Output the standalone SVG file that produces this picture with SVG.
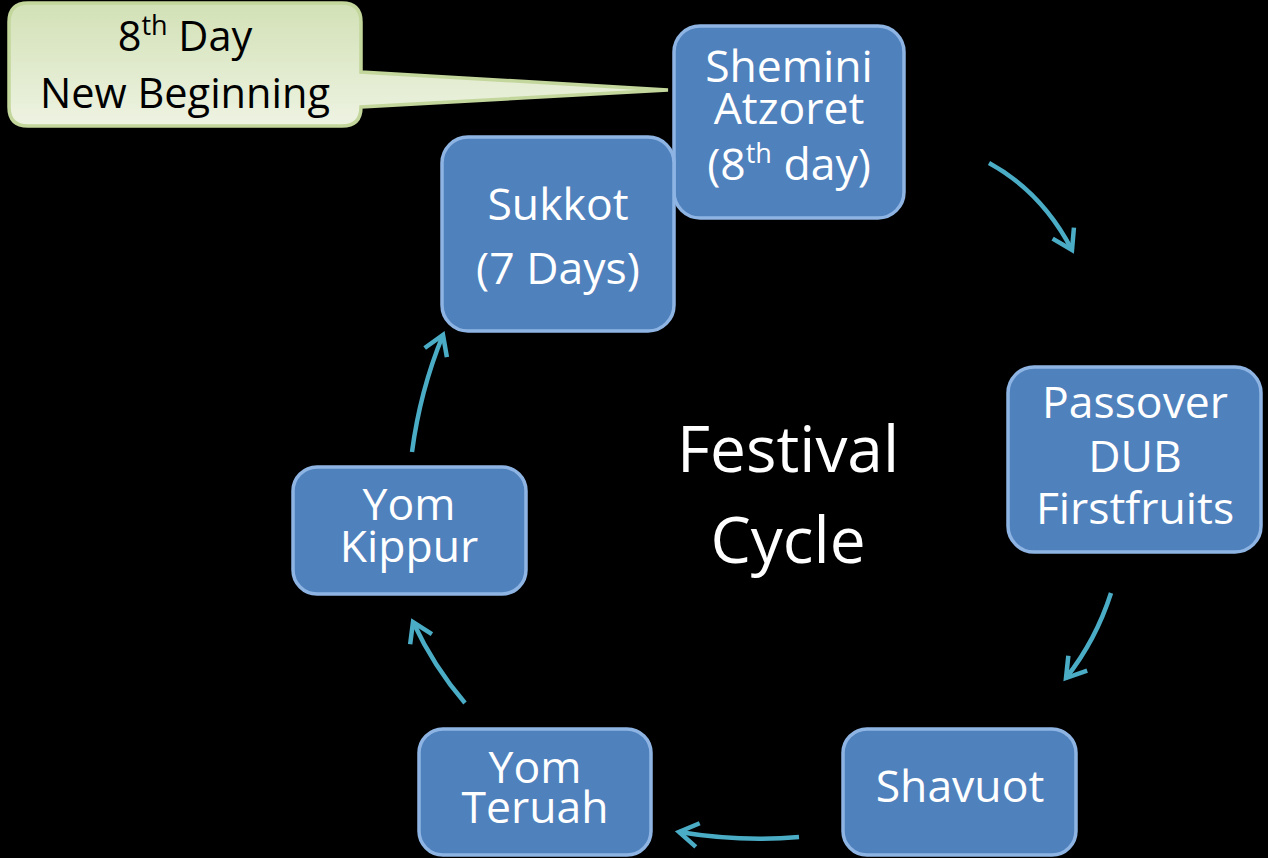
<svg xmlns="http://www.w3.org/2000/svg" width="1268" height="858" viewBox="0 0 1268 858">
<defs>
<linearGradient id="callGrad" x1="0" y1="0" x2="0" y2="1">
<stop offset="0" stop-color="#D2E1B6"/>
<stop offset="1" stop-color="#EEF3E2"/>
</linearGradient>
<marker id="chev" markerUnits="userSpaceOnUse" markerWidth="40" markerHeight="40" refX="0" refY="0" viewBox="-25 -20 30 40" orient="auto" overflow="visible">
<path d="M -19,-12 L 0,0 L -19,12" fill="none" stroke="#4BACC6" stroke-width="4.5" stroke-linejoin="miter"/>
</marker>
</defs>
<style>
.node rect { fill: #4F81BD; stroke: #8EB4E3; stroke-width: 3.5; }
.nt { font-family: "Open Sans", "Noto Sans", sans-serif; font-size: 44.5px; fill: #FFFFFF; text-anchor: middle; }
.sup { font-size: 27px; }
.ct { font-family: "Open Sans", "Noto Sans", sans-serif; font-size: 41.5px; fill: #000000; text-anchor: middle; }
.title { font-family: "Open Sans", "Noto Sans", sans-serif; font-size: 64px; fill: #FFFFFF; text-anchor: middle; }
.conn path { fill: none; stroke: #4BACC6; stroke-width: 4.5; marker-end: url(#chev); }
</style>
<rect x="0" y="0" width="1268" height="858" fill="#000000"/>

<g id="callout">
<path d="M 28,3 H 342 Q 361,3 361,22 V 72 L 668,90 L 361,107 V 107 Q 361,126 342,126 H 28 Q 9,126 9,107 V 22 Q 9,3 28,3 Z" fill="url(#callGrad)" stroke="#C3D69B" stroke-width="3.5"/>
<text class="ct" x="185" y="51">8<tspan class="sup" dy="-16">th</tspan><tspan dy="16"> Day</tspan></text>
<text class="ct" x="185" y="108">New Beginning</text>
</g>

<g id="shemini" class="node">
<rect x="674" y="26" width="230" height="192" rx="26" ry="26"/>
<text class="nt" x="789" y="82">Shemini</text>
<text class="nt" x="789" y="124">Atzoret</text>
<text class="nt" x="789" y="180">(8<tspan class="sup" dy="-17">th</tspan><tspan dy="17"> day)</tspan></text>
</g>

<g id="sukkot" class="node">
<rect x="442" y="137" width="232" height="194" rx="26" ry="26"/>
<text class="nt" x="558" y="220">Sukkot</text>
<text class="nt" x="558" y="284">(7 Days)</text>
</g>

<g id="passover" class="node">
<rect x="1008" y="367" width="253" height="185" rx="26" ry="26"/>
<text class="nt" x="1135" y="418">Passover</text>
<text class="nt" x="1135" y="472">DUB</text>
<text class="nt" x="1135" y="524">Firstfruits</text>
</g>

<g id="shavuot" class="node">
<rect x="843" y="729" width="233" height="126" rx="24" ry="24"/>
<text class="nt" x="960" y="802">Shavuot</text>
</g>

<g id="yomteruah" class="node">
<rect x="419" y="729" width="232" height="126" rx="24" ry="24"/>
<text class="nt" x="535" y="783">Yom</text>
<text class="nt" x="535" y="823">Teruah</text>
</g>

<g id="yomkippur" class="node">
<rect x="293" y="467" width="233" height="127" rx="24" ry="24"/>
<text class="nt" x="409" y="520">Yom</text>
<text class="nt" x="409" y="562">Kippur</text>
</g>

<g id="title">
<text class="title" x="788" y="472">Festival</text>
<text class="title" x="788" y="563">Cycle</text>
</g>

<g id="connectors" class="conn">
<path d="M 989,163 Q 1042,192 1072,250"/>
<path d="M 1111,593 Q 1096,640 1066,678"/>
<path d="M 799,837 Q 740,842 679,832"/>
<path d="M 465,703 Q 434,667 413,622"/>
<path d="M 412,452 Q 420,391 443,335"/>
</g>
</svg>
